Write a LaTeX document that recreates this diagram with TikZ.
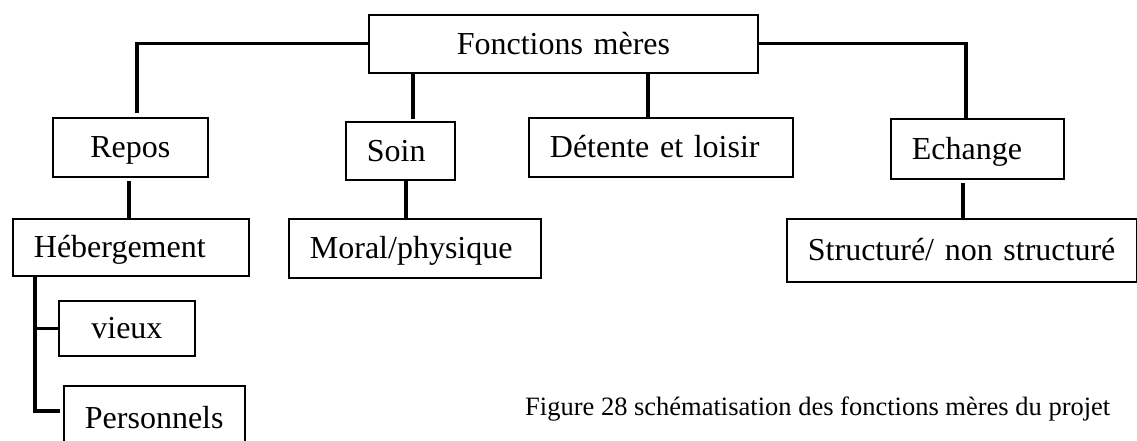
\documentclass[tikz,border=0pt]{standalone}
\usepackage{fontspec}
\setmainfont{Liberation Serif}

\begin{document}
\begin{tikzpicture}[x=1pt, y=-1pt,
  boite/.style={draw, line width=1.8pt, inner xsep=21pt, inner ysep=0pt, text height=24pt, text depth=3pt, anchor=north west, align=left, font=\fontsize{32}{38}\selectfont},
  lien/.style={line width=3.2pt}]
\useasboundingbox (0,0) rectangle (1137,441);
\node[boite, text width=347pt, minimum height=58pt, align=center] (fm) at (368,14) {Fonctions mères};
\node[boite, text width=113pt, minimum height=59pt, align=center] (repos) at (52,117) {Repos};
\node[boite, text width=67pt, minimum height=58pt] (soin) at (345,121) {Soin};
\node[boite, text width=222pt, minimum height=59pt] (detente) at (528,117) {Détente et loisir};
\node[boite, text width=131pt, minimum height=60pt] (echange) at (890,118) {Echange};
\node[boite, text width=194pt, minimum height=57pt] (heberg) at (12,218) {Hébergement};
\node[boite, text width=210pt, minimum height=59pt] (moral) at (288,218) {Moral/physique};
\node[boite, text width=308pt, minimum height=63pt] (struct) at (786,218) {Structuré/ non structuré};
\node[boite, text width=94pt, minimum height=55pt, align=center] (vieux) at (58,300) {vieux};
\node[boite, text width=139pt, minimum height=64pt] (personnels) at (63,385) {Personnels};
% liaisons
\draw[lien] (fm.west) -| ([xshift=6.5pt, yshift=4pt]repos.north);
\draw[lien] ([xshift=12.5pt]soin.north |- fm.south) -- ([xshift=12.5pt, yshift=2pt]soin.north);
\draw[lien] ([xshift=-13pt]detente.north |- fm.south) -- ([xshift=-13pt]detente.north);
\draw[lien] (fm.east) -| ([xshift=-11.5pt]echange.north);
\draw[lien] ([xshift=-1.5pt, yshift=-3pt]repos.south) -- ([xshift=-1.5pt]repos.south |- heberg.north);
\draw[lien] ([xshift=5.5pt]soin.south) -- ([xshift=5.5pt]soin.south |- moral.north);
\draw[lien] ([xshift=-14.5pt, yshift=-3pt]echange.south) -- ([xshift=-14.5pt]echange.south |- struct.north);
\draw[lien] ([xshift=23pt]heberg.south west) |- (vieux.west);
\draw[lien] ([xshift=23pt]heberg.south west) |- ([xshift=-3pt, yshift=7pt]personnels.west);
\node[anchor=base west, inner sep=0pt, font=\fontsize{26.5}{32}\selectfont] (legende) at (525,415) {Figure 28 schématisation des fonctions mères du projet};
\end{tikzpicture}
\end{document}
